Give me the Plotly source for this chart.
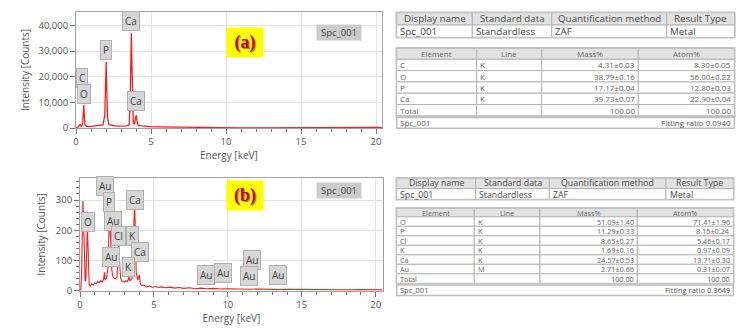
import plotly.graph_objects as go

# ---------------- data ----------------
energy_a = [0.00, 0.10, 0.18, 0.24, 0.28, 0.32, 0.38, 0.44, 0.48, 0.52, 0.56, 0.60, 0.70, 0.80, 1.00,
            1.20, 1.40, 1.60, 1.80, 1.92, 1.97, 2.01, 2.05, 2.10, 2.20, 2.40, 2.60, 2.80, 3.00, 3.20,
            3.40, 3.55, 3.62, 3.66, 3.69, 3.72, 3.76, 3.82, 3.90, 3.96, 4.01, 4.06, 4.12, 4.30, 4.60,
            5.00, 5.50, 6.00, 6.50, 7.00, 7.40, 7.60, 8.00, 9.00, 10.0, 11.0, 12.0, 13.0, 14.0, 15.0,
            16.0, 17.0, 18.0, 19.0, 19.5, 20.0, 20.4]
counts_a = [0, 200, 600, 1200, 1500, 900, 700, 1500, 5000, 8900, 4500, 1200, 600, 500, 600,
            700, 800, 900, 1200, 5000, 16000, 25800, 15000, 4000, 1300, 900, 800, 700, 800, 700,
            800, 1200, 12000, 28000, 36900, 27000, 10000, 2000, 1500, 3500, 5000, 3000, 1200, 800, 600,
            500, 450, 400, 250, 150, 300, 150, 100, 80, 60, 50, 40, 40, 30, 30,
            30, 40, 60, 120, 200, 250, 250]

energy_b = [0.00, 0.05, 0.10, 0.15, 0.20, 0.24, 0.27, 0.30, 0.35, 0.40, 0.45, 0.50, 0.54, 0.58, 0.62,
            0.70, 0.80, 0.90, 1.00, 1.10, 1.20, 1.30, 1.40, 1.50, 1.60, 1.65, 1.70, 1.80, 1.90, 1.95,
            2.00, 2.05, 2.10, 2.15, 2.20, 2.30, 2.40, 2.50, 2.56, 2.62, 2.68, 2.75, 2.85, 3.00, 3.10,
            3.20, 3.27, 3.31, 3.36, 3.45, 3.52, 3.58, 3.63, 3.69, 3.74, 3.80, 3.90, 3.96, 4.01, 4.07,
            4.15, 4.30, 4.50, 4.70, 4.90, 5.10, 5.30, 5.50, 5.80, 6.10, 6.40, 6.70, 7.00, 7.40, 7.80,
            8.20, 8.60, 9.00, 9.50, 10.0, 10.5, 11.0, 11.5, 12.0, 12.5, 13.0, 13.5, 14.0, 15.0, 16.0,
            17.0, 18.0, 19.0, 20.0, 20.5]
counts_b = [0, 5, 40, 150, 297, 240, 150, 60, 30, 40, 120, 210, 150, 50, 20,
            15, 22, 18, 25, 22, 30, 26, 32, 28, 38, 60, 35, 42, 80, 180,
            263, 200, 110, 70, 50, 40, 38, 45, 90, 154, 90, 40, 30, 28, 32,
            30, 38, 48, 32, 35, 40, 90, 220, 300, 200, 60, 35, 42, 52, 25,
            16, 18, 12, 15, 11, 13, 10, 12, 9, 11, 8, 10, 7, 9, 6,
            8, 6, 7, 5, 6, 5, 5, 4, 5, 4, 4, 3, 4, 3, 3,
            3, 2, 3, 2, 2]

labels_a = ["C", "O", "P", "Ca", "Ca"]
label_x_a = [0.43, 0.53, 2.00, 3.67, 4.00]
label_y_a = [19600, 13400, 30500, 41700, 10600]

labels_b = ["Au", "P", "Ca", "O", "Au", "Cl", "K", "Ca", "Au", "K", "Au", "Au", "Au", "Au", "Au"]
label_x_b = [1.66, 1.99, 3.69, 0.54, 2.20, 2.60, 3.52, 4.03, 2.10, 3.28, 8.52, 9.70, 11.63, 11.43, 13.39]
label_y_b = [347, 293, 300, 227, 230, 180, 180, 127, 110, 77, 52, 58, 102, 48, 52]

info_header = ["Display name", "Standard data", "Quantification method", "Result Type"]
info_row = ["Spc_001", "Standardless", "ZAF", "Metal"]
quant_header = ["Element", "Line", "Mass%", "Atom%"]
footer_name = "Spc_001"

elem_a = ["C", "O", "P", "Ca", "Total"]
line_a = ["K", "K", "K", "K", ""]
mass_a = ["4.31±0.03", "38.79±0.16", "17.17±0.04", "39.73±0.07", "100.00"]
atom_a = ["8.30±0.05", "56.00±0.22", "12.80±0.03", "22.90±0.04", "100.00"]
fit_a = "Fitting ratio 0.0940"

elem_b = ["O", "P", "Cl", "K", "Ca", "Au", "Total"]
line_b = ["K", "K", "K", "K", "K", "M", ""]
mass_b = ["51.09±1.40", "11.29±0.33", "8.65±0.27", "1.69±0.16", "24.57±0.53", "2.71±0.66", "100.00"]
atom_b = ["71.41±1.96", "8.15±0.24", "5.46±0.17", "0.97±0.09", "13.71±0.30", "0.31±0.07", "100.00"]
fit_b = "Fitting ratio 0.3649"

# ---------------- styling ----------------
W, H = 743, 333
def px(x):
    return x / W
def py(y):
    return 1 - y / H

FONT = "Open Sans"
TXT = "#555555"
GRID = "#e3e3e3"
FRAME = "#a0a0a0"
CELL_LINE = "#b4b4b4"
HEAD_FILL = "#e2e2e2"

fig = go.Figure()
# invisible trace to host the table canvas axes (pixel units) -- added first so it sits underneath
fig.add_trace(go.Scatter(x=[None], y=[None], xaxis="x3", yaxis="y3", showlegend=False))
fig.add_trace(go.Scatter(x=energy_a, y=counts_a, mode="lines", line=dict(color="#ff1a1a", width=1.3),
                         xaxis="x", yaxis="y", showlegend=False, hoverinfo="skip"))
fig.add_trace(go.Scatter(x=energy_b, y=counts_b, mode="lines", line=dict(color="#ff1a1a", width=1.1),
                         xaxis="x2", yaxis="y2", showlegend=False, hoverinfo="skip"))

shapes = []
annotations = []

def cell(x0, x1, y0, y1, fill):
    shapes.append(dict(type="rect", xref="x3", yref="y3", x0=x0, x1=x1, y0=y0, y1=y1,
                       fillcolor=fill, line=dict(color=CELL_LINE, width=1), layer="above"))

def text(x, y, s, anchor, size, color=TXT):
    annotations.append(dict(x=x, y=y, xref="x3", yref="y3", text=s, showarrow=False,
                            xanchor=anchor, yanchor="middle", borderpad=0,
                            font=dict(family=FONT, size=size, color=color)))

def grid_table(top, edges, header, cols, hh, rh, hsize, csize, aligns, hcolor, ccolor, nudge=0.0):
    nrows = len(cols[0])
    for j in range(len(header)):
        cell(edges[j], edges[j + 1], top, top + hh, HEAD_FILL)
        text((edges[j] + edges[j + 1]) / 2, top + hh / 2 - nudge, header[j], "center", hsize, hcolor)
    for i in range(nrows):
        y0 = top + hh + i * rh
        for j in range(len(header)):
            cell(edges[j], edges[j + 1], y0, y0 + rh, "white")
            yc = y0 + rh / 2 + nudge
            if aligns[j] == "left":
                text(edges[j] + 2.5, yc, cols[j][i], "left", csize, ccolor)
            elif aligns[j] == "right":
                text(edges[j + 1] - 2.5, yc, cols[j][i], "right", csize, ccolor)
            else:
                text((edges[j] + edges[j + 1]) / 2, yc, cols[j][i], "center", csize, ccolor)
    shapes.append(dict(type="rect", xref="x3", yref="y3", x0=edges[0] - 0.5, x1=edges[-1] + 0.5,
                       y0=top - 0.5, y1=top + hh + nrows * rh + 0.5,
                       line=dict(color="#c4c4c4", width=1.5), layer="above"))
    return top + hh + nrows * rh

def footer_row(top, x0, x1, h, left, right, size):
    shapes.append(dict(type="rect", xref="x3", yref="y3", x0=x0, x1=x1, y0=top, y1=top + h,
                       fillcolor="white", line=dict(color="#bdbdbd", width=1.5), layer="above"))
    text(x0 + 2.5, top + h / 2, left, "left", size)
    text(x1 - 2.5, top + h / 2, right, "right", size)

# ---- tables for (a)
grid_table(12.7, [396.7, 472.3, 551.7, 666.7, 734.5], info_header, [[v] for v in info_row],
           12.3, 12.3, 9.8, 9.8, ["left"] * 4, "#4a4a4a", "#4a4a4a", nudge=0.3)
end_a = grid_table(48.3, [396.7, 476.7, 541.7, 638.3, 734.3], quant_header,
                   [elem_a, line_a, mass_a, atom_a], 11, 11.3, 8, 8,
                   ["left", "left", "right", "right"], "#666", "#666")
footer_row(end_a + 1.6, 396.7, 734.3, 10.8, footer_name, fit_a, 8)

# ---- tables for (b)
grid_table(178.3, [396.7, 475.7, 549.3, 666.0, 733.3], info_header, [[v] for v in info_row],
           10.2, 10.8, 8.8, 8.8, ["left"] * 4, "#4a4a4a", "#4a4a4a", nudge=0.6)
end_b = grid_table(208.3, [396.7, 474.3, 540.0, 637.3, 733.3], quant_header,
                   [elem_b, line_b, mass_b, atom_b], 8.5, 9.5, 7.3, 7.3,
                   ["left", "left", "right", "right"], "#666", "#666")
footer_row(end_b + 1.6, 396.7, 733.3, 10.5, footer_name, fit_b, 7.5)

# ---- element labels
for t, x, y in zip(labels_a, label_x_a, label_y_a):
    annotations.append(dict(x=x, y=y, xref="x", yref="y", text=t, showarrow=False,
                            bgcolor="#d6d6d6", bordercolor="#b0b0b0", borderwidth=1, borderpad=2,
                            font=dict(family=FONT, size=10, color="#444")))
for t, x, y in zip(labels_b, label_x_b, label_y_b):
    annotations.append(dict(x=x, y=y, xref="x2", yref="y2", text=t, showarrow=False,
                            bgcolor="#d6d6d6", bordercolor="#b0b0b0", borderwidth=1, borderpad=2,
                            font=dict(family=FONT, size=10, color="#444")))

for lab, cy, sy in [("(a)", 27.5, 24.5), ("(b)", 195, 190)]:
    annotations.append(dict(x=px(226), y=py(cy), xref="paper", yref="paper", text="<b>" + lab + "</b>",
                            showarrow=False, bgcolor="#ffff00", width=34, height=27,
                            font=dict(family="Liberation Serif", size=18, color="#cc0000",
                                      shadow="1px 1px 1px #777")))
    annotations.append(dict(x=px(339), y=py(sy), xref="paper", yref="paper", text="Spc_001",
                            showarrow=False, bgcolor="#cbcbcb", width=42, height=13,
                            font=dict(family=FONT, size=9.5, color="#444")))

axis_common = dict(showline=True, linecolor=FRAME, mirror=True, showgrid=True, gridcolor=GRID,
                   zeroline=False, ticks="outside", ticklen=5, tickcolor="#777", automargin=False,
                   tickfont=dict(family=FONT, size=9.5, color=TXT))
title_font = dict(family=FONT, size=10, color=TXT)

fig.update_layout(
    width=W, height=H, margin=dict(l=0, r=0, t=0, b=0, autoexpand=False),
    paper_bgcolor="white", plot_bgcolor="rgba(0,0,0,0)", showlegend=False,
    xaxis=dict(axis_common, domain=[px(76), px(381.7)], range=[0, 20.38], dtick=5,
               minor=dict(dtick=1, ticks="outside", ticklen=3, tickcolor="#777", showgrid=False),
               title=dict(text="Energy [keV]", font=title_font, standoff=4), anchor="y"),
    yaxis=dict(axis_common, domain=[py(128), py(12)], range=[0, 45200], dtick=10000, tickformat=",d",
               title=dict(text="Intensity [Counts]", font=title_font, standoff=6), anchor="x"),
    xaxis2=dict(axis_common, domain=[px(80), px(382.7)], range=[0, 20.47], dtick=5,
                minor=dict(dtick=1, ticks="outside", ticklen=3, tickcolor="#777", showgrid=False),
                title=dict(text="Energy [keV]", font=title_font, standoff=4), anchor="y2"),
    yaxis2=dict(axis_common, domain=[py(290.5), py(178.3)], range=[0, 372], dtick=100,
                minor=dict(dtick=20, ticks="outside", ticklen=3, tickcolor="#777", showgrid=False),
                title=dict(text="Intensity [Counts]", font=title_font, standoff=8), anchor="x2"),
    xaxis3=dict(domain=[0, 1], range=[0, W], visible=False, fixedrange=True, anchor="y3"),
    yaxis3=dict(domain=[0, 1], range=[H, 0], visible=False, fixedrange=True, anchor="x3"),
    shapes=shapes,
    annotations=annotations,
)

fig.write_html("out.html", config={"displayModeBar": False},
               post_script="document.body.style.margin='0';")
